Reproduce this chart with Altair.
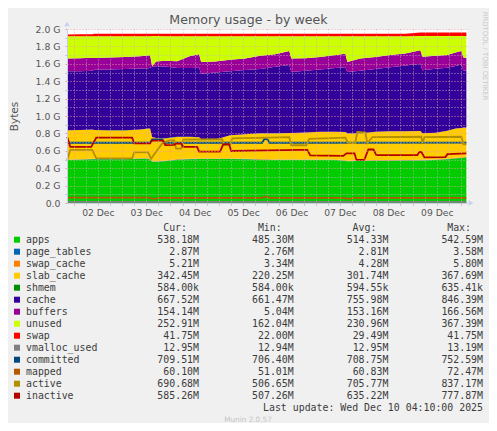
import altair as alt
import pandas as pd

# ---- time axis: hours since 02 Dec 2025 00:00 ----
hours = [-3.2, 3.2, 9.2, 10.2, 18.1, 25.5, 33.0, 36.9, 37.9, 38.9,
         40.9, 45.4, 51.3, 57.8, 62.2, 63.2, 70.2, 77.6, 85.0, 92.5,
         99.9, 106.9, 107.9, 114.8, 122.3, 129.7, 134.7, 135.7, 142.1, 149.6,
         157.0, 164.5, 171.9, 172.9, 179.4, 185.3, 189.3, 192.2, 193.2, 194.7]

# ---- stacked series (MiB) ----
apps = [505, 510, 515, 515, 515, 515, 520, 520, 510, 485,
        485, 490, 510, 515, 518, 518, 518, 518, 515, 510,
        505, 505, 505, 505, 505, 505, 495, 490, 495, 498,
        498, 500, 500, 500, 505, 515, 525, 531, 531, 538.18]
page_tables = [2.79, 2.79, 2.80, 2.80, 2.80, 2.81, 2.81, 2.81, 2.82, 3.58,
               3.40, 3.10, 2.90, 2.82, 2.81, 2.81, 2.80, 2.80, 2.80, 2.80,
               2.80, 2.81, 2.81, 2.80, 2.80, 2.80, 2.81, 2.81, 2.80, 2.80,
               2.79, 2.79, 2.80, 2.80, 2.80, 2.80, 2.82, 2.85, 2.86, 2.87]
swap_cache = [3.34, 3.40, 3.50, 3.60, 3.70, 3.80, 3.90, 3.90, 4.00, 4.20,
              4.20, 4.30, 4.30, 4.30, 4.30, 4.30, 4.30, 4.30, 4.30, 4.30,
              4.30, 4.40, 4.40, 4.40, 4.40, 4.50, 4.50, 4.50, 4.50, 4.50,
              4.50, 4.50, 5.80, 5.50, 5.30, 5.20, 5.20, 5.20, 5.20, 5.21]
slab_cache = [345, 343, 343, 338, 333, 333, 338, 350, 360, 283,
              271, 263, 261, 256, 248, 228, 221, 273, 286, 302,
              307, 312, 312, 317, 325, 327, 332, 322, 317, 334,
              340, 338, 338, 312, 313, 327, 343, 343, 349, 342.45]
shmem = [0.59, 0.59, 0.59, 0.59, 0.59, 0.59, 0.59, 0.60, 0.61, 0.62,
         0.62, 0.61, 0.60, 0.60, 0.60, 0.60, 0.60, 0.60, 0.60, 0.60,
         0.60, 0.60, 0.60, 0.60, 0.59, 0.59, 0.59, 0.59, 0.59, 0.59,
         0.59, 0.59, 0.58, 0.58, 0.58, 0.57, 0.57, 0.57, 0.57, 0.57]
cache = [693, 691, 691, 707, 717, 722, 717, 710, 715, 827,
         846, 846, 809, 809, 819, 769, 790, 753, 758, 758,
         783, 799, 718, 727, 734, 748, 763, 723, 737, 737,
         752, 772, 793, 742, 752, 742, 737, 748, 670, 667.52]
buffers = [150, 154, 154, 140, 140, 142, 145, 148, 148, 5.04,
           56, 67, 82, 143, 159, 136, 128, 133, 133, 154,
           148, 166, 158, 148, 148, 154, 159, 117, 143, 143,
           143, 143, 159, 159, 154, 148, 159, 159, 154, 154.14]
unused = [263, 258, 253, 256, 251, 244, 236, 228, 223, 356,
          298, 290, 294, 233, 212, 305, 299, 279, 264, 232,
          213, 174, 263, 259, 244, 222, 207, 304, 264, 244,
          223, 203, 166, 243, 232, 224, 192, 175, 252, 252.91]
swap = [22.0, 22.0, 22.0, 28.1, 28.1, 28.1, 28.1, 28.1, 28.1, 28.1,
        28.1, 28.1, 28.1, 28.1, 28.1, 28.1, 28.1, 28.1, 28.1, 28.1,
        28.1, 28.1, 28.1, 28.1, 28.1, 28.1, 28.1, 28.1, 28.1, 28.1,
        28.1, 28.1, 41.75, 41.75, 41.75, 41.75, 41.75, 41.75, 41.75, 41.75]

# ---- line series (hours, MiB) ----
vmalloc_h = [-3.2, 60.0, 120.0, 194.7]
vmalloc_used = [12.95, 12.95, 12.95, 12.95]
committed_h = [-3.2, 37.9, 38.9, 43.9, 44.9, 93.5, 94.5, 96.0, 97.0, 194.7]
committed = [709, 709, 748, 748, 709, 709, 752.6, 752.6, 709, 709.5]
mapped_h = [-3.2, 37.4, 38.9, 40.9, 42.4, 46.0, 93.5, 94.5, 96.0, 97.0,
            134.2, 135.2, 137.6, 138.6, 194.7]
mapped = [63, 63, 52, 52, 64, 60, 60, 72.5, 72.5, 60,
          60, 51, 51, 61, 60.1]
active_h = [-3.2, -1.7, 9.2, 11.2, 29.0, 30.0, 36.9, 38.4, 41.4, 43.9,
            46.9, 49.8, 50.8, 53.3, 54.3, 73.6, 74.6, 77.6, 78.6, 96.4,
            106.9, 107.9, 115.3, 116.8, 134.7, 136.1, 139.6, 140.6, 144.6, 145.6,
            148.1, 172.4, 172.9, 173.9, 192.2, 193.2, 194.7]
active = [507, 625, 625, 525, 525, 595, 595, 520, 620, 700,
          735, 740, 640, 640, 745, 750, 680, 690, 760, 770,
          775, 680, 680, 755, 770, 705, 705, 837, 830, 705,
          775, 780, 705, 775, 780, 690.68, 690.68]
inactive_h = [-3.2, -1.7, 8.7, 11.2, 29.0, 30.0, 37.9, 38.9, 44.4, 45.4,
              49.8, 50.8, 53.3, 54.3, 61.2, 62.2, 72.6, 74.1, 77.1, 78.1,
              96.4, 112.3, 115.8, 117.3, 133.7, 135.2, 139.2, 140.2, 144.1, 146.1,
              148.6, 150.1, 170.4, 171.4, 172.4, 173.9, 184.3, 185.3, 194.7]
inactive = [778, 661, 661, 770, 770, 701, 701, 735, 735, 681,
            685, 700, 700, 661, 661, 605, 605, 690, 690, 612,
            620, 625, 625, 560, 555, 585, 585, 507.3, 507.3, 630,
            630, 564, 564, 600, 600, 537, 540, 575, 585.26]

# ---- legend ----
names = ["apps", "page_tables", "swap_cache", "slab_cache", "shmem", "cache",
         "buffers", "unused", "swap", "vmalloc_used", "committed", "mapped",
         "active", "inactive"]
colors = ["#00CC00", "#0066B3", "#FF8000", "#FFCC00", "#008F00", "#330099",
          "#990099", "#CCFF00", "#FF0000", "#808080", "#00487D", "#B35A00",
          "#B38F00", "#B30000"]
legend_cur = ["538.18M", "2.87M", "5.21M", "342.45M", "584.00k", "667.52M", "154.14M",
              "252.91M", "41.75M", "12.95M", "709.51M", "60.10M", "690.68M", "585.26M"]
legend_min = ["485.30M", "2.76M", "3.34M", "220.25M", "584.00k", "661.47M", "5.04M",
              "162.04M", "22.00M", "12.94M", "706.40M", "51.01M", "506.65M", "507.26M"]
legend_avg = ["514.33M", "2.81M", "4.28M", "301.74M", "594.55k", "755.98M", "153.16M",
              "230.96M", "29.49M", "12.95M", "708.75M", "60.83M", "705.77M", "635.22M"]
legend_max = ["542.59M", "3.58M", "5.80M", "367.69M", "635.41k", "846.39M", "166.56M",
              "367.39M", "41.75M", "13.19M", "752.59M", "72.47M", "837.17M", "777.87M"]
headers = ["Cur:", "Min:", "Avg:", "Max:"]
last_update = "Last update: Wed Dec 10 04:10:00 2025"
footer = "Munin 2.0.57"
watermark = "RRDTOOL / TOBI OETIKER"
title = "Memory usage - by week"

# ---- build tables ----
area_series = [apps, page_tables, swap_cache, slab_cache, shmem, cache, buffers, unused, swap]
area_rows = []
for k, vals in enumerate(area_series):
    for h, v in zip(hours, vals):
        area_rows.append({"series": names[k], "k": k, "h": h, "gib": v / 1024})
area_df = pd.DataFrame(area_rows)

line_defs = [("vmalloc_used", vmalloc_h, vmalloc_used),
             ("committed", committed_h, committed),
             ("mapped", mapped_h, mapped),
             ("active", active_h, active),
             ("inactive", inactive_h, inactive)]

color_scale = alt.Scale(domain=names, range=colors)
x_scale = alt.Scale(domain=[-3.3, 195.0], nice=False, zero=False)
y_scale = alt.Scale(domain=[0, 2.0], nice=False, zero=True)

x_ticks = [6 * i for i in range(33)]
y_ticks = [round(0.1 * i, 1) for i in range(21)]

MAJ = "#EBA0A0"
MIN = "#BEBEBE"
AXC = "#C8D0E0"

x_axis = alt.Axis(
    values=x_ticks, title=None, grid=True,
    labelExpr="datum.value % 24 == 12 ? '0' + (2 + floor(datum.value / 24)) + ' Dec' : ''",
    gridColor={"condition": {"test": "datum.value % 24 == 0", "value": MAJ}, "value": MIN},
    tickColor={"condition": {"test": "datum.value % 24 == 0", "value": MAJ}, "value": MIN},
    gridDash=[1, 2], gridOpacity=0.85, tickSize=2, labelPadding=3,
    domainColor=AXC, labelFont="DejaVu Sans", labelFontSize=9.2,
    labelColor="#555555", labelOverlap=False, labelFlush=False, zindex=1,
)
y_axis = alt.Axis(
    values=y_ticks, title="Bytes", grid=True,
    labelExpr="round(datum.value * 10) % 2 == 0 ? (datum.value == 0 ? '0.0' : format(datum.value, '.1f') + ' G') : ''",
    gridColor={"condition": {"test": "round(datum.value * 10) % 2 == 0", "value": MAJ}, "value": MIN},
    tickColor={"condition": {"test": "round(datum.value * 10) % 2 == 0", "value": MAJ}, "value": MIN},
    gridDash=[1, 2], gridOpacity=0.85, tickSize=2, labelPadding=5,
    domainColor=AXC, labelFont="DejaVu Sans", labelFontSize=9.3,
    labelColor="#555555", labelOverlap=False, labelFlush=False, zindex=1,
    titleFont="DejaVu Sans", titleFontSize=10.5, titleFontWeight="normal",
    titleColor="#555555", titleX=-53, titleY=87, titleAngle=270,
    titleAlign="center", titleBaseline="middle",
)

areas = alt.Chart(area_df).mark_area(interpolate="linear").encode(
    x=alt.X("h:Q", scale=x_scale, axis=x_axis),
    y=alt.Y("gib:Q", stack="zero", scale=y_scale, axis=y_axis),
    color=alt.Color("series:N", scale=color_scale, legend=None),
    order=alt.Order("k:Q", sort="ascending"),
)

line_layers = []
for name, hs, vs in line_defs:
    df = pd.DataFrame({"h": hs, "gib": [v / 1024 for v in vs], "series": name})
    line_layers.append(
        alt.Chart(df).mark_line(strokeWidth=1.8, interpolate="linear").encode(
            x=alt.X("h:Q", scale=x_scale, axis=x_axis),
            y=alt.Y("gib:Q", scale=y_scale, axis=y_axis),
            color=alt.Color("series:N", scale=color_scale, legend=None),
        )
    )

main = alt.layer(areas, *line_layers)

# legend table
lx = alt.Scale(domain=[0, 4], range=[37.33, 416], nice=False, zero=False)
ly = alt.Scale(domain=[0, 13], range=[210.7, 366.7], nice=False, zero=False)

leg_df = pd.DataFrame({"series": names, "row": list(range(len(names)))})
val_rows = []
for i in range(len(names)):
    for c, arr in enumerate([legend_cur, legend_min, legend_avg, legend_max]):
        val_rows.append({"row": i, "col": c + 1, "text": arr[i]})
val_df = pd.DataFrame(val_rows)
hdr_df = pd.DataFrame({"row": [-1] * 4, "col": [1, 2, 3, 4], "text": headers})
upd_df = pd.DataFrame({"row": [14], "col": [4], "text": [last_update]})
ftr_df = pd.DataFrame({"row": [15], "col": [1], "text": [footer]})

MONO = "DejaVu Sans Mono"
TXT = "#3c3c3c"

swatches = alt.Chart(leg_df).mark_square(size=36, opacity=1).encode(
    x=alt.value(-50),
    y=alt.Y("row:Q", scale=ly, axis=None),
    color=alt.Color("series:N", scale=color_scale, legend=None),
)
name_txt = alt.Chart(leg_df).mark_text(align="left", baseline="middle", font=MONO,
                                       fontSize=9.9, color=TXT).encode(
    x=alt.value(-41),
    y=alt.Y("row:Q", scale=ly, axis=None),
    text="series:N",
)
val_txt = alt.Chart(val_df).mark_text(align="right", baseline="middle", font=MONO,
                                      fontSize=9.9, color=TXT).encode(
    x=alt.X("col:Q", scale=lx, axis=None),
    y=alt.Y("row:Q", scale=ly, axis=None),
    text="text:N",
)
hdr_txt = alt.Chart(hdr_df).mark_text(align="right", baseline="middle", font=MONO,
                                      fontSize=9.9, color=TXT, dx=-12).encode(
    x=alt.X("col:Q", scale=lx, axis=None),
    y=alt.Y("row:Q", scale=ly, axis=None),
    text="text:N",
)
upd_txt = alt.Chart(upd_df).mark_text(align="right", baseline="middle", font=MONO,
                                      fontSize=9.9, color=TXT).encode(
    x=alt.X("col:Q", scale=lx, axis=None),
    y=alt.Y("row:Q", scale=ly, axis=None),
    text="text:N",
)
ftr_txt = alt.Chart(ftr_df).mark_text(align="center", baseline="middle", font="DejaVu Sans",
                                      fontSize=7.3, color="#C4C4C4", dx=49).encode(
    x=alt.X("col:Q", scale=lx, axis=None),
    y=alt.Y("row:Q", scale=ly, axis=None),
    text="text:N",
)

legend = alt.layer(swatches, name_txt, val_txt, hdr_txt, upd_txt, ftr_txt)

# decorations: title, watermark, axis arrows
title_txt = alt.Chart(pd.DataFrame({"text": [title]})).mark_text(
    align="center", baseline="alphabetic", font="DejaVu Sans", fontSize=12.6,
    color="#555555").encode(x=alt.value(181.5), y=alt.value(-5), text="text:N")
wm_txt = alt.Chart(pd.DataFrame({"text": [watermark]})).mark_text(
    align="center", baseline="middle", font="DejaVu Sans", fontSize=6.9,
    color="#C8C8C8", angle=90).encode(x=alt.value(418), y=alt.value(27), text="text:N")
arrows_df = pd.DataFrame({"shape": ["triangle-up", "triangle-right"]})
arrow_up = alt.Chart(arrows_df.iloc[[0]]).mark_point(
    shape="triangle-up", filled=True, size=30, color="#C8D0F0", opacity=1).encode(
    x=alt.value(0), y=alt.value(-5))
arrow_right = alt.Chart(arrows_df.iloc[[1]]).mark_point(
    shape="triangle-right", filled=True, size=30, color="#C8D0F0", opacity=1).encode(
    x=alt.value(404), y=alt.value(174))

chart = alt.layer(main, legend, title_txt, wm_txt, arrow_up, arrow_right).resolve_scale(
    x="independent", y="independent"
).properties(
    width=400, height=174,
    autosize=alt.AutoSizeParams(type="none"),
    padding={"left": 59, "top": 21, "right": 22, "bottom": 220},
    background="#F0F0F0",
).configure_view(fill="white", stroke="transparent")

chart.save("out.html", embed_options={"renderer": "svg", "actions": False})
